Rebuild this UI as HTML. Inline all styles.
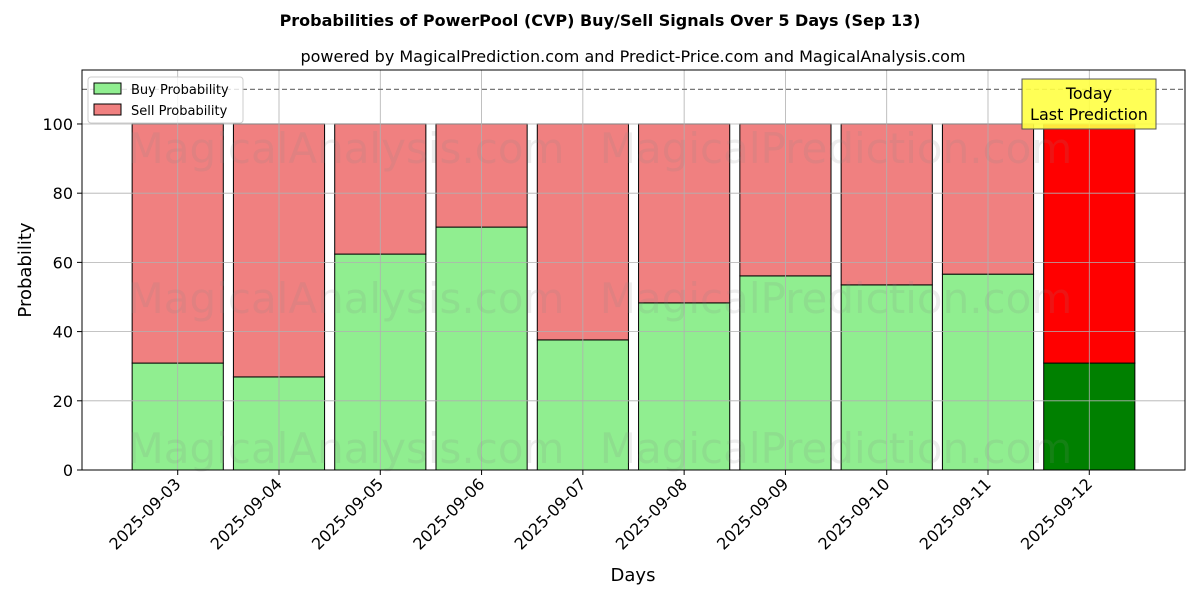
<!DOCTYPE html>
<html><head><meta charset="utf-8"><style>body{margin:0;background:#fff}svg{display:block;font-family:"DejaVu Sans","Liberation Sans",sans-serif}</style></head>
<body>
<svg id="chart" width="1200" height="600" xmlns="http://www.w3.org/2000/svg">
<text x="600" y="26" text-anchor="middle" font-size="16" font-weight="bold">Probabilities of PowerPool (CVP) Buy/Sell Signals Over 5 Days (Sep 13)</text>
<text x="633" y="62" text-anchor="middle" font-size="16">powered by MagicalPrediction.com and Predict-Price.com and MagicalAnalysis.com</text>
<g id="bars"></g>
<g id="grid"></g>
<g id="wm" fill="#888" fill-opacity="0.15" font-size="42">
<text x="346" y="163" text-anchor="middle">MagicalAnalysis.com</text>
<text x="836" y="163" text-anchor="middle">MagicalPrediction.com</text>
<text x="346" y="313" text-anchor="middle">MagicalAnalysis.com</text>
<text x="836" y="313" text-anchor="middle">MagicalPrediction.com</text>
<text x="346" y="463" text-anchor="middle">MagicalAnalysis.com</text>
<text x="836" y="463" text-anchor="middle">MagicalPrediction.com</text>
</g>
<g id="axes"></g>
<rect x="82" y="70" width="1103" height="400" fill="none" stroke="#000" stroke-width="1"/>
<g>
<rect x="88" y="77" width="155" height="46" fill="#fff" fill-opacity="0.8" stroke="#ccc" rx="3"/>
<rect x="94" y="83" width="27" height="11" fill="#90ee90" stroke="#000"/>
<text x="131" y="94" font-size="13">Buy Probability</text>
<rect x="94" y="104" width="27" height="11" fill="#f08080" stroke="#000"/>
<text x="131" y="115" font-size="13">Sell Probability</text>
</g>
<g>
<rect x="1022" y="79" width="134" height="50" fill="#ffff44" fill-opacity="0.9" stroke="#555"/>
<text x="1089" y="99" text-anchor="middle" font-size="16">Today</text>
<text x="1089" y="120" text-anchor="middle" font-size="16">Last Prediction</text>
</g>
<text x="633" y="581" text-anchor="middle" font-size="18">Days</text>
<text transform="translate(31,270) rotate(-90)" text-anchor="middle" font-size="18">Probability</text>
</svg>
<script>
const categories=["2025-09-03","2025-09-04","2025-09-05","2025-09-06","2025-09-07","2025-09-08","2025-09-09","2025-09-10","2025-09-11","2025-09-12"];
const buyValues=[30.9,26.9,62.4,70.2,37.6,48.3,56.1,53.5,56.6,30.9];
const sellValues=buyValues.map(v=>100-v);
const yTicks=[0,20,40,60,80,100];
const thresholdValue=110;
const NS="http://www.w3.org/2000/svg";
const L=82,R=1185,T=70,B=470,yMax=115.6,xMin=-0.945,xMax=9.945;
const x=i=>L+(i-xMin)/(xMax-xMin)*(R-L);
const y=v=>B-v/yMax*(B-T);
const bw=0.9*(R-L)/(xMax-xMin);
function mk(tag,attrs,parent){const e=document.createElementNS(NS,tag);for(const k in attrs)e.setAttribute(k,attrs[k]);document.getElementById(parent).appendChild(e);return e;}
categories.forEach((c,i)=>{
 const last=i===categories.length-1;
 const b=mk('rect',{x:x(i)-bw/2,y:y(buyValues[i]),width:bw,height:y(0)-y(buyValues[i]),fill:last?'#008000':'#90ee90',stroke:'#000','stroke-width':1},'bars');
 
 
 const s=mk('rect',{x:x(i)-bw/2,y:y(buyValues[i]+sellValues[i]),width:bw,height:y(buyValues[i])-y(buyValues[i]+sellValues[i]),fill:last?'#ff0000':'#f08080',stroke:'#000','stroke-width':1},'bars');
 
 
 const g=mk('line',{x1:x(i),x2:x(i),y1:T,y2:B,stroke:'#b0b0b0','stroke-width':0.8},'grid');
 
 
 const tk=mk('line',{x1:x(i),x2:x(i),y1:B,y2:B+5,stroke:'#000'},'axes');
 
 
 const t=mk('text',{x:x(i)+4,y:B+15,'text-anchor':'end','font-size':16,transform:`rotate(-45 ${x(i)+4} ${B+15})`},'axes');
 t.textContent=c;
 
 
});
yTicks.forEach(v=>{
 const g=mk('line',{x1:L,x2:R,y1:y(v),y2:y(v),stroke:'#b0b0b0','stroke-width':0.8},'grid');
 
 
 const tk=mk('line',{x1:L-5,x2:L,y1:y(v),y2:y(v),stroke:'#000'},'axes');
 
 
 const t=mk('text',{x:L-9,y:y(v)+6,'text-anchor':'end','font-size':16},'axes');
 t.textContent=v;
 
 
});
const th=mk('line',{x1:L,x2:R,y1:y(thresholdValue),y2:y(thresholdValue),stroke:'#777','stroke-dasharray':'5,3','stroke-width':1.2},'grid');


</script>
</body></html>
